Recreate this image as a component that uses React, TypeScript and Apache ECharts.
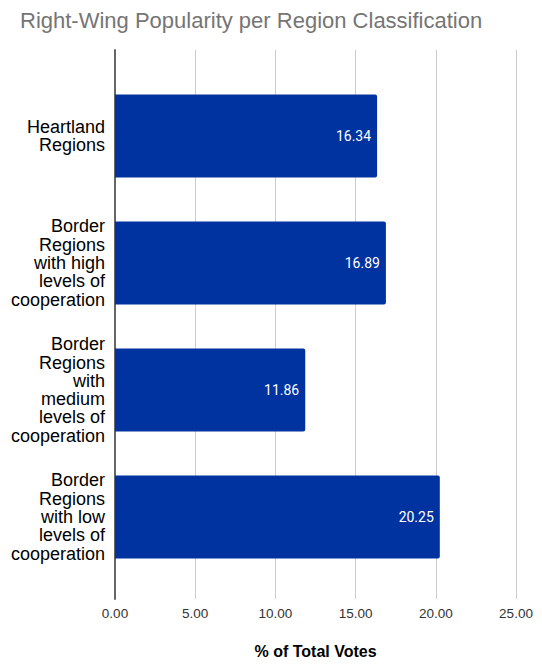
import React, { useEffect, useRef } from "react";
import * as echarts from "echarts";

const TITLE = "Right-Wing Popularity per Region Classification";
const categories = [
  "Heartland\nRegions",
  "Border\nRegions\nwith high\nlevels of\ncooperation",
  "Border\nRegions\nwith\nmedium\nlevels of\ncooperation",
  "Border\nRegions\nwith low\nlevels of\ncooperation",
];
const values = [16.34, 16.89, 11.86, 20.25];
const X_MIN = 0;
const X_MAX = 25;
const X_INTERVAL = 5;
const X_NAME = "% of Total Votes";

export default function App() {
  const ref = useRef<HTMLDivElement>(null);
  useEffect(() => {
    if (!ref.current) return;
    const chart = echarts.init(ref.current, undefined, { renderer: "svg" });
    const font = "Arial";
    chart.setOption({
      animation: false,
      textStyle: { fontFamily: font },
      title: {
        text: TITLE,
        left: 15,
        top: 4,
        textStyle: { color: "#757575", fontSize: 22, fontWeight: "normal", fontFamily: font },
      },
      grid: [
        { left: 115, right: 26, top: 72.5, bottom: 83.5, containLabel: false },
        { left: 115, right: 26, top: 50, bottom: 62, containLabel: false },
      ],
      xAxis: [
        { gridIndex: 0, type: "value", min: X_MIN, max: X_MAX, interval: X_INTERVAL, show: false },
        {
          gridIndex: 1,
          type: "value",
          min: X_MIN,
          max: X_MAX,
          interval: X_INTERVAL,
          axisLine: { show: false },
          axisTick: { show: false },
          splitLine: { show: true, lineStyle: { color: "#cccccc", width: 1 } },
          axisLabel: {
            color: "#333333",
            fontSize: 13.5,
            fontFamily: font,
            margin: 7,
            formatter: (v: number) => v.toFixed(2),
          },
          name: X_NAME,
          nameLocation: "middle",
          nameGap: 44,
          nameTextStyle: { color: "#000000", fontSize: 16, fontWeight: "bold", fontFamily: font },
        },
      ],
      yAxis: [
        {
          gridIndex: 0,
          type: "category",
          data: categories,
          inverse: true,
          axisLine: { show: false },
          axisTick: { show: false },
          splitLine: { show: false },
          axisLabel: {
            color: "#000000",
            fontSize: 18,
            lineHeight: 18.3,
            fontFamily: font,
            align: "right",
            margin: 10,
          },
        },
        {
          gridIndex: 1,
          type: "value",
          min: 0,
          max: 1,
          axisLine: { show: true, lineStyle: { color: "#666666", width: 2 } },
          axisTick: { show: false },
          axisLabel: { show: false },
          splitLine: { show: false },
        },
      ],
      series: [
        {
          type: "bar",
          xAxisIndex: 0,
          yAxisIndex: 0,
          data: values,
          barWidth: 83,
          itemStyle: { color: "#0033a0", borderRadius: [0, 2, 2, 0] },
          label: {
            show: true,
            position: "insideRight",
            distance: 6,
            color: "#ffffff",
            fontSize: 14,
            fontFamily: "Roboto",
            formatter: (p: any) => Number(p.value).toFixed(2),
          },
        },
      ],
    });
    return () => chart.dispose();
  }, []);
  return (
    <div
      ref={ref}
      style={{ position: "fixed", left: 0, top: 0, width: 542, height: 664, background: "#ffffff" }}
    />
  );
}
